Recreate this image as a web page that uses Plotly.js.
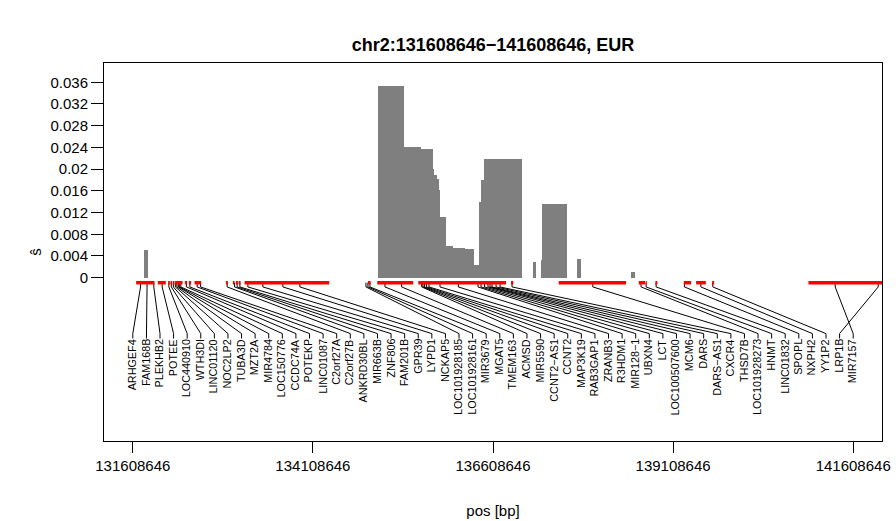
<!DOCTYPE html>
<html><head><meta charset="utf-8">
<script src="https://cdn.plot.ly/plotly-3.0.1.min.js"></script>
<style>html,body{margin:0;padding:0;background:#fff}</style>
</head><body><div id="chart" style="width:896px;height:521px"></div>
<script>
// ---- data ----
const barStart = [131761400,135011400,135368300,135604400,135771100,135789200,135826700,135854400,135872500,135951700,136048900,136219700,136344700,136414200,136446100,136483600,137164200,137275300,137293300,137775300,138525300];
const barEnd   = [131812800,135368300,135604400,135771100,135789200,135826700,135854400,135872500,135951700,136048900,136219700,136344700,136414200,136446100,136483600,137011400,137201700,137293300,137636400,137826700,138580800];
const barValue = [0.0051,0.0353,0.02408,0.0237,0.0201,0.0189,0.0182,0.0162,0.0111,0.0059,0.00553,0.0053,0.00234,0.0139,0.018,0.02187,0.0029,0.0033,0.01358,0.00345,0.00105];

const geneStart = [131654400,131955800,132098900,132132200,132164200,132196100,132330800,132386400,132465500,132900300,132997500,133039200,133076700,133160000,134872500,135001700,135571100,136858600,137521100,138632200,138729400,138862800,139257200,139428000,139650300,140987800];
const geneEnd   = [131910000,132066900,132122500,132154400,132187800,132298900,132362800,132418300,132557200,132928000,133021100,133066900,133104400,134335000,134910000,135501700,136789200,136890500,138455800,138719700,138743300,138890500,139358600,139562800,139678000,142889000];

const geneNames = ["ARHGEF4","FAM168B","PLEKHB2","POTEE","LOC440910","WTH3DI","LINC01120","NOC2LP2","TUBA3D","MZT2A","MIR4784","LOC150776","CCDC74A","POTEKP","LINC01087","C2orf27A","C2orf27B","ANKRD30BL","MIR663B","ZNF806","FAM201B","GPR39","LYPD1","NCKAP5","LOC101928185","LOC101928161","MIR3679","MGAT5","TMEM163","ACMSD","MIR5590","CCNT2\u2212AS1","CCNT2","MAP3K19","RAB3GAP1","ZRANB3","R3HDM1","MIR128\u22121","UBXN4","LCT","LOC100507600","MCM6","DARS","DARS\u2212AS1","CXCR4","THSD7B","LOC101928273","HNMT","LINC01832","SPOPL","NXPH2","YY1P2","LRP1B","MIR7157"];
const geneAnchor = [131716000,131807000,131900000,132016000,132109000,132143000,132171000,132199000,132220000,132241000,132254000,132275000,132354000,132400000,132502000,132549000,132918000,133021000,133057000,133095000,133206000,133414000,133692000,133928000,134845000,134872000,134900000,135109000,135340000,135619000,135636000,135657000,135685000,135720000,135873000,136127000,136400000,136442000,136491000,136539000,136567000,136595000,136651000,136706000,136873000,137994000,138664000,138734000,138873000,139266000,139494000,139660000,141956000,141359000];

const xTickVals = [131608646,134108646,136608646,139108646,141608646];
const xTickText = ["131608646","134108646","136608646","139108646","141608646"];
const yTickVals = [0,0.004,0.008,0.012,0.016,0.02,0.024,0.028,0.032,0.036];
const yTickText = ["0","0.004","0.008","0.012","0.016","0.02","0.024","0.028","0.032","0.036"];

// ---- layout constants ----
const regionStart = 131608646, regionEnd = 141608646;
const yGene = -0.00092, yBend1 = -0.0017, yBend2 = -0.0103, yLineEnd = -0.0112, yLabelTop = -0.0113;
const FONT = "Liberation Sans, Arial, Helvetica, sans-serif";

// bars
const barTrace = {
  type: 'bar',
  x: barStart.map((s, i) => (s + barEnd[i]) / 2),
  width: barStart.map((s, i) => barEnd[i] - s),
  y: barValue, base: 0,
  marker: {color: '#7f7f7f', line: {width: 0}},
  hoverinfo: 'skip', showlegend: false
};

// connectors
const n = geneNames.length;
const labelX = geneNames.map((_, i) => regionStart + i * (regionEnd - regionStart) / (n - 1));
const cx = [], cy = [];
geneAnchor.forEach((a, i) => {
  cx.push(a, a, labelX[i], labelX[i], null);
  cy.push(yGene, yBend1, yBend2, yLineEnd, null);
});
const connTrace = {type: 'scatter', mode: 'lines', x: cx, y: cy,
  line: {color: '#000', width: 1}, hoverinfo: 'skip', showlegend: false};

// gene segments
const gx = [], gy = [];
geneStart.forEach((s, i) => { gx.push(s, geneEnd[i], null); gy.push(yGene, yGene, null); });
const geneTrace = {type: 'scatter', mode: 'lines', x: gx, y: gy,
  line: {color: '#ff0000', width: 3.5}, hoverinfo: 'skip', showlegend: false};

const annotations = geneNames.map((g, i) => ({
  x: labelX[i], y: yLabelTop, xref: 'x', yref: 'y', text: g, showarrow: false,
  textangle: -90, xanchor: 'center', yanchor: 'top', xshift: -1, yshift: 1,
  font: {family: FONT, size: 10.8, color: '#000'}, borderpad: 0
}));

const layout = {
  width: 896, height: 521,
  margin: {l: 104, r: 14, t: 63, b: 80, pad: 0},
  paper_bgcolor: '#fff', plot_bgcolor: '#fff',
  font: {family: FONT, color: '#000', size: 15},
  title: {text: '<b>chr2:131608646\u2212141608646, EUR</b>', x: 0.5, xref: 'paper',
          y: 1 - 45/521, yref: 'container', yanchor: 'middle', font: {family: FONT, size: 18, color: '#000'}},
  bargap: 0,
  xaxis: {range: [131208646, 142008646], tickvals: xTickVals, ticktext: xTickText,
          ticks: 'outside', ticklen: 11, tickwidth: 1, tickcolor: '#000',
          showline: true, mirror: true, linecolor: '#000', linewidth: 1,
          showgrid: false, zeroline: false, tickfont: {size: 15}, ticklabelstandoff: 0,
          title: {text: 'pos [bp]', font: {size: 15}, standoff: 32}},
  yaxis: {range: [-0.03008, 0.03955], tickvals: yTickVals, ticktext: yTickText,
          ticks: 'outside', ticklen: 12, tickwidth: 1, tickcolor: '#000',
          showline: true, mirror: true, linecolor: '#000', linewidth: 1,
          showgrid: false, zeroline: false, tickfont: {size: 15}, ticklabelstandoff: 0,
          title: {text: 'ŝ', font: {size: 15}, standoff: 5}},
  annotations: annotations
};

Plotly.newPlot('chart', [barTrace, connTrace, geneTrace], layout, {displayModeBar: false, staticPlot: true});
</script>
</body></html>
